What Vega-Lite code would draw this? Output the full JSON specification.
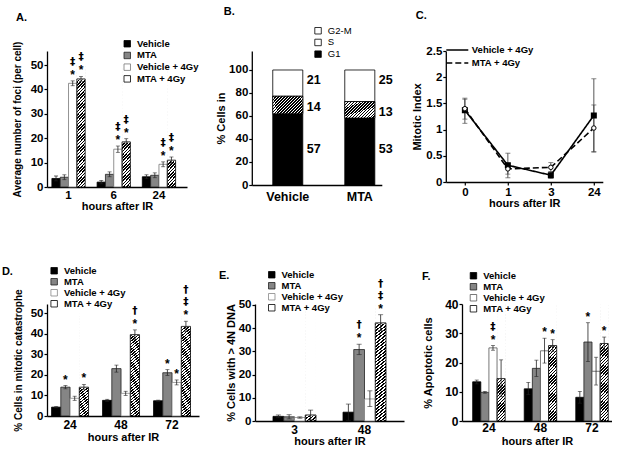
{
"$schema":"https://vega.github.io/schema/vega-lite/v6.json",
"padding":{"left":1,"top":6,"right":0,"bottom":0},
"datasets":{
"A":[
{"t":"1","g":"Vehicle","v":3.5,"lo":2.5,"hi":4.5},
{"t":"1","g":"MTA","v":4,"lo":3,"hi":5},
{"t":"1","g":"Vehicle + 4Gy","v":42.5,"lo":41.5,"hi":43.5,"s1":"*","s2":"‡"},
{"t":"1","g":"MTA + 4Gy","v":44.3,"lo":43.3,"hi":45.3,"s1":"*","s2":"‡"},
{"t":"6","g":"Vehicle","v":2,"lo":1.3,"hi":2.7},
{"t":"6","g":"MTA","v":5.2,"lo":4.2,"hi":6.2},
{"t":"6","g":"Vehicle + 4Gy","v":15.5,"lo":14.2,"hi":16.8,"s1":"*","s2":"‡"},
{"t":"6","g":"MTA + 4Gy","v":18.5,"lo":17.2,"hi":19.8,"s1":"*","s2":"‡"},
{"t":"24","g":"Vehicle","v":4.2,"lo":3.4,"hi":5},
{"t":"24","g":"MTA","v":4.8,"lo":3.8,"hi":5.8},
{"t":"24","g":"Vehicle + 4Gy","v":9.3,"lo":8.3,"hi":10.3,"s1":"*","s2":"‡"},
{"t":"24","g":"MTA + 4Gy","v":11,"lo":9.7,"hi":12.3,"s1":"*","s2":"‡"}
],
"B":[
{"c":"Vehicle","ph":"G1","pct":57,"o":1},{"c":"Vehicle","ph":"S","pct":14,"o":2},{"c":"Vehicle","ph":"G2-M","pct":21,"o":3},
{"c":"MTA","ph":"G1","pct":53,"o":1},{"c":"MTA","ph":"S","pct":13,"o":2},{"c":"MTA","ph":"G2-M","pct":25,"o":3}
],
"C":[
{"h":"0","hn":0,"s":"Vehicle + 4Gy","v":1.37,"lo":1.12,"hi":1.6},
{"h":"1","hn":1,"s":"Vehicle + 4Gy","v":0.32,"lo":0.08,"hi":0.55},
{"h":"3","hn":3,"s":"Vehicle + 4Gy","v":0.13,"lo":0.07,"hi":0.19},
{"h":"24","hn":24,"s":"Vehicle + 4Gy","v":1.27,"lo":0.57,"hi":1.97},
{"h":"0","hn":0,"s":"MTA + 4Gy","v":1.4,"lo":1.2,"hi":1.58},
{"h":"1","hn":1,"s":"MTA + 4Gy","v":0.25,"lo":0.15,"hi":0.36},
{"h":"3","hn":3,"s":"MTA + 4Gy","v":0.28,"lo":0.2,"hi":0.37},
{"h":"24","hn":24,"s":"MTA + 4Gy","v":1.03,"lo":0.58,"hi":1.47}
],
"D":[
{"t":"24","g":"Vehicle","v":4.3,"lo":4,"hi":4.6},
{"t":"24","g":"MTA","v":14,"lo":13.2,"hi":14.8,"s1":"*"},
{"t":"24","g":"Vehicle + 4Gy","v":8.6,"lo":7.6,"hi":9.6},
{"t":"24","g":"MTA + 4Gy","v":14,"lo":12.7,"hi":15.3,"s1":"*"},
{"t":"48","g":"Vehicle","v":7.6,"lo":7.1,"hi":8.1},
{"t":"48","g":"MTA","v":23,"lo":21.3,"hi":24.7},
{"t":"48","g":"Vehicle + 4Gy","v":11,"lo":10,"hi":12},
{"t":"48","g":"MTA + 4Gy","v":39.5,"lo":37.3,"hi":41.8,"s1":"*","s2":"†"},
{"t":"72","g":"Vehicle","v":7.4,"lo":7.1,"hi":7.7},
{"t":"72","g":"MTA","v":21,"lo":19.7,"hi":22.5,"s1":"*"},
{"t":"72","g":"Vehicle + 4Gy","v":16.3,"lo":15.1,"hi":17.5,"s1":"*"},
{"t":"72","g":"MTA + 4Gy","v":43.5,"lo":41,"hi":46,"s1":"*","s2":"‡","s3":"†"}
],
"E":[
{"t":"3","g":"Vehicle","v":2,"lo":1.4,"hi":2.6},
{"t":"3","g":"MTA","v":1.8,"lo":0.9,"hi":2.7},
{"t":"3","g":"Vehicle + 4Gy","v":1.5,"lo":1.2,"hi":1.8},
{"t":"3","g":"MTA + 4Gy","v":2.6,"lo":0.5,"hi":4.7},
{"t":"48","g":"Vehicle","v":3.8,"lo":0.3,"hi":7.3},
{"t":"48","g":"MTA","v":30.8,"lo":28.6,"hi":33.1,"s1":"*","s2":"†"},
{"t":"48","g":"Vehicle + 4Gy","v":9.5,"lo":6.2,"hi":13},
{"t":"48","g":"MTA + 4Gy","v":42.3,"lo":39,"hi":45.8,"s1":"*","s2":"‡","s3":"†"}
],
"F":[
{"t":"24","g":"Vehicle","v":13.4,"lo":12.7,"hi":14},
{"t":"24","g":"MTA","v":9.8,"lo":9.5,"hi":10.1},
{"t":"24","g":"Vehicle + 4Gy","v":25,"lo":24.2,"hi":25.8,"s1":"*","s2":"‡"},
{"t":"24","g":"MTA + 4Gy","v":14.5,"lo":8.3,"hi":20.9},
{"t":"48","g":"Vehicle","v":11,"lo":9,"hi":13.2},
{"t":"48","g":"MTA","v":18,"lo":15.2,"hi":20.8},
{"t":"48","g":"Vehicle + 4Gy","v":24,"lo":19.8,"hi":28.3,"s1":"*"},
{"t":"48","g":"MTA + 4Gy","v":25.8,"lo":23.8,"hi":27.8,"s1":"*"},
{"t":"72","g":"Vehicle","v":8.1,"lo":6.1,"hi":10.1},
{"t":"72","g":"MTA","v":27,"lo":20.3,"hi":33.6,"s1":"*"},
{"t":"72","g":"Vehicle + 4Gy","v":17,"lo":12.3,"hi":21.8},
{"t":"72","g":"MTA + 4Gy","v":26.5,"lo":24.3,"hi":28.7,"s1":"*"}
]
},
"spacing":54,
"resolve":{"scale":{"fill":"independent","stroke":"independent","strokeDash":"independent","xOffset":"independent"}},
"vconcat":[
{"spacing":14.8,
"resolve":{"scale":{"fill":"independent","stroke":"independent","strokeDash":"independent","xOffset":"independent"}},
"hconcat":[
{"width":140,"height":136,
"title":{"text":"A.","offset":16,"dx":-31,"frame":"group"},
"data":{"name":"A"},
"encoding":{
"x":{"field":"t","type":"nominal","sort":["1","6","24"],"scale":{"paddingInner":0.264,"paddingOuter":0.18,"align":0.3},"axis":{"title":"hours after IR","labelAngle":0,"ticks":false,"labelPadding":2,"titlePadding":0}},
"xOffset":{"field":"g","type":"nominal","sort":["Vehicle","MTA","Vehicle + 4Gy","MTA + 4Gy"],"scale":{"paddingInner":0,"paddingOuter":0}},
"y":{"field":"v","type":"quantitative","stack":null,"scale":{"domain":[0,55.74],"nice":false},"axis":{"title":"Average number of foci (per cell)","values":[0,10,20,30,40,50],"titleFontSize":10,"titlePadding":8}}
},
"layer":[
{"transform":[{"filter":"datum.g == 'MTA + 4Gy'"}],"mark":{"type":"bar","strokeWidth":0,"fill":{"gradient":"linear","x1":0,"y1":0,"x2":0.08,"y2":1.08,"stops":[{"offset":0,"color":"#000"},{"offset":0.0125,"color":"#000"},{"offset":0.0125,"color":"#fff"},{"offset":0.025,"color":"#fff"},{"offset":0.025,"color":"#000"},{"offset":0.0375,"color":"#000"},{"offset":0.0375,"color":"#fff"},{"offset":0.05,"color":"#fff"},{"offset":0.05,"color":"#000"},{"offset":0.0625,"color":"#000"},{"offset":0.0625,"color":"#fff"},{"offset":0.075,"color":"#fff"},{"offset":0.075,"color":"#000"},{"offset":0.0875,"color":"#000"},{"offset":0.0875,"color":"#fff"},{"offset":0.1,"color":"#fff"},{"offset":0.1,"color":"#000"},{"offset":0.1125,"color":"#000"},{"offset":0.1125,"color":"#fff"},{"offset":0.125,"color":"#fff"},{"offset":0.125,"color":"#000"},{"offset":0.1375,"color":"#000"},{"offset":0.1375,"color":"#fff"},{"offset":0.15,"color":"#fff"},{"offset":0.15,"color":"#000"},{"offset":0.1625,"color":"#000"},{"offset":0.1625,"color":"#fff"},{"offset":0.175,"color":"#fff"},{"offset":0.175,"color":"#000"},{"offset":0.1875,"color":"#000"},{"offset":0.1875,"color":"#fff"},{"offset":0.2,"color":"#fff"},{"offset":0.2,"color":"#000"},{"offset":0.2125,"color":"#000"},{"offset":0.2125,"color":"#fff"},{"offset":0.225,"color":"#fff"},{"offset":0.225,"color":"#000"},{"offset":0.2375,"color":"#000"},{"offset":0.2375,"color":"#fff"},{"offset":0.25,"color":"#fff"},{"offset":0.25,"color":"#000"},{"offset":0.2625,"color":"#000"},{"offset":0.2625,"color":"#fff"},{"offset":0.275,"color":"#fff"},{"offset":0.275,"color":"#000"},{"offset":0.2875,"color":"#000"},{"offset":0.2875,"color":"#fff"},{"offset":0.3,"color":"#fff"},{"offset":0.3,"color":"#000"},{"offset":0.3125,"color":"#000"},{"offset":0.3125,"color":"#fff"},{"offset":0.325,"color":"#fff"},{"offset":0.325,"color":"#000"},{"offset":0.3375,"color":"#000"},{"offset":0.3375,"color":"#fff"},{"offset":0.35,"color":"#fff"},{"offset":0.35,"color":"#000"},{"offset":0.3625,"color":"#000"},{"offset":0.3625,"color":"#fff"},{"offset":0.375,"color":"#fff"},{"offset":0.375,"color":"#000"},{"offset":0.3875,"color":"#000"},{"offset":0.3875,"color":"#fff"},{"offset":0.4,"color":"#fff"},{"offset":0.4,"color":"#000"},{"offset":0.4125,"color":"#000"},{"offset":0.4125,"color":"#fff"},{"offset":0.425,"color":"#fff"},{"offset":0.425,"color":"#000"},{"offset":0.4375,"color":"#000"},{"offset":0.4375,"color":"#fff"},{"offset":0.45,"color":"#fff"},{"offset":0.45,"color":"#000"},{"offset":0.4625,"color":"#000"},{"offset":0.4625,"color":"#fff"},{"offset":0.475,"color":"#fff"},{"offset":0.475,"color":"#000"},{"offset":0.4875,"color":"#000"},{"offset":0.4875,"color":"#fff"},{"offset":0.5,"color":"#fff"},{"offset":0.5,"color":"#000"},{"offset":0.5125,"color":"#000"},{"offset":0.5125,"color":"#fff"},{"offset":0.525,"color":"#fff"},{"offset":0.525,"color":"#000"},{"offset":0.5375,"color":"#000"},{"offset":0.5375,"color":"#fff"},{"offset":0.55,"color":"#fff"},{"offset":0.55,"color":"#000"},{"offset":0.5625,"color":"#000"},{"offset":0.5625,"color":"#fff"},{"offset":0.575,"color":"#fff"},{"offset":0.575,"color":"#000"},{"offset":0.5875,"color":"#000"},{"offset":0.5875,"color":"#fff"},{"offset":0.6,"color":"#fff"},{"offset":0.6,"color":"#000"},{"offset":0.6125,"color":"#000"},{"offset":0.6125,"color":"#fff"},{"offset":0.625,"color":"#fff"},{"offset":0.625,"color":"#000"},{"offset":0.6375,"color":"#000"},{"offset":0.6375,"color":"#fff"},{"offset":0.65,"color":"#fff"},{"offset":0.65,"color":"#000"},{"offset":0.6625,"color":"#000"},{"offset":0.6625,"color":"#fff"},{"offset":0.675,"color":"#fff"},{"offset":0.675,"color":"#000"},{"offset":0.6875,"color":"#000"},{"offset":0.6875,"color":"#fff"},{"offset":0.7,"color":"#fff"},{"offset":0.7,"color":"#000"},{"offset":0.7125,"color":"#000"},{"offset":0.7125,"color":"#fff"},{"offset":0.725,"color":"#fff"},{"offset":0.725,"color":"#000"},{"offset":0.7375,"color":"#000"},{"offset":0.7375,"color":"#fff"},{"offset":0.75,"color":"#fff"},{"offset":0.75,"color":"#000"},{"offset":0.7625,"color":"#000"},{"offset":0.7625,"color":"#fff"},{"offset":0.775,"color":"#fff"},{"offset":0.775,"color":"#000"},{"offset":0.7875,"color":"#000"},{"offset":0.7875,"color":"#fff"},{"offset":0.8,"color":"#fff"},{"offset":0.8,"color":"#000"},{"offset":0.8125,"color":"#000"},{"offset":0.8125,"color":"#fff"},{"offset":0.825,"color":"#fff"},{"offset":0.825,"color":"#000"},{"offset":0.8375,"color":"#000"},{"offset":0.8375,"color":"#fff"},{"offset":0.85,"color":"#fff"},{"offset":0.85,"color":"#000"},{"offset":0.8625,"color":"#000"},{"offset":0.8625,"color":"#fff"},{"offset":0.875,"color":"#fff"},{"offset":0.875,"color":"#000"},{"offset":0.8875,"color":"#000"},{"offset":0.8875,"color":"#fff"},{"offset":0.9,"color":"#fff"},{"offset":0.9,"color":"#000"},{"offset":0.9125,"color":"#000"},{"offset":0.9125,"color":"#fff"},{"offset":0.925,"color":"#fff"},{"offset":0.925,"color":"#000"},{"offset":0.9375,"color":"#000"},{"offset":0.9375,"color":"#fff"},{"offset":0.95,"color":"#fff"},{"offset":0.95,"color":"#000"},{"offset":0.9625,"color":"#000"},{"offset":0.9625,"color":"#fff"},{"offset":0.975,"color":"#fff"},{"offset":0.975,"color":"#000"},{"offset":0.9875,"color":"#000"},{"offset":0.9875,"color":"#fff"},{"offset":1,"color":"#fff"}]}},"encoding":{"y":{"datum":50},"y2":{"datum":0}}},
{"transform":[{"filter":"datum.g == 'MTA + 4Gy'"}],"mark":{"type":"bar","fill":"#fff","stroke":"#fff","strokeWidth":1.2},"encoding":{"y2":{"datum":50}}},
{"transform":[{"filter":"datum.g != 'MTA + 4Gy'"}],"mark":{"type":"bar","strokeWidth":0.8},"encoding":{
"fill":{"field":"g","type":"nominal","scale":{"domain":["Vehicle","MTA","Vehicle + 4Gy","MTA + 4Gy"],"range":["#000","#858585","#fff","#fff"]},"legend":{"orient":"none","legendX":75.5,"legendY":-12,"title":null,"rowPadding":0.7,"zindex":1,"encode":{"symbols":{"update":{"fill":[{"test":"datum.value === 'MTA + 4Gy'","value":{"gradient":"linear","x1":0,"y1":0,"x2":1,"y2":1,"stops":[{"offset":0,"color":"#fff"},{"offset":0.3,"color":"#fff"},{"offset":0.3,"color":"#000"},{"offset":0.42,"color":"#000"},{"offset":0.42,"color":"#fff"},{"offset":0.58,"color":"#fff"},{"offset":0.58,"color":"#000"},{"offset":0.7,"color":"#000"},{"offset":0.7,"color":"#fff"},{"offset":1,"color":"#fff"}]}},{"test":"datum.value === 'Vehicle'","value":"#000"},{"test":"datum.value === 'MTA'","value":"#858585"},{"value":"#fff"}],"stroke":{"value":"#000"},"strokeWidth":{"value":0.8}}}}}},
"stroke":{"field":"g","type":"nominal","scale":{"domain":["Vehicle","MTA","Vehicle + 4Gy","MTA + 4Gy"],"range":["#000","#222","#777","#000"]},"legend":null}}},
{"transform":[{"filter":"datum.g == 'MTA + 4Gy'"}],"mark":{"type":"bar","fill":"transparent","stroke":"#000","strokeWidth":0.8}},
{"mark":{"type":"rule","color":"#222","strokeWidth":0.8},"encoding":{"y":{"field":"lo","type":"quantitative"},"y2":{"field":"hi"}}},
{"mark":{"type":"tick","color":"#222","thickness":0.8,"size":4,"orient":"horizontal"},"encoding":{"y":{"field":"lo","type":"quantitative"}}},
{"mark":{"type":"tick","color":"#222","thickness":0.8,"size":4,"orient":"horizontal"},"encoding":{"y":{"field":"hi","type":"quantitative"}}},
{"transform":[{"filter":"isValid(datum.s1)"}],"mark":{"type":"text","baseline":"middle","dy":-6,"fontSize":12,"fontWeight":"bold"},"encoding":{"y":{"field":"hi","type":"quantitative"},"text":{"field":"s1"}}},
{"transform":[{"filter":"isValid(datum.s2)"}],"mark":{"type":"text","baseline":"middle","dy":-19,"fontSize":10.5,"fontWeight":"bold","font":"DejaVu Sans"},"encoding":{"y":{"field":"hi","type":"quantitative"},"text":{"field":"s2"}}}
]},
{"spacing":19,
"resolve":{"scale":{"fill":"independent","stroke":"independent","strokeDash":"independent","xOffset":"independent"}},
"hconcat":[
{"width":130,"height":134,
"title":{"text":"B.","offset":9,"dx":-28,"frame":"group"},
"data":{"name":"B"},
"transform":[{"stack":"pct","groupby":["c"],"sort":[{"field":"o","order":"ascending"}],"offset":"normalize","as":["y0","y1"]}],
"encoding":{"x":{"field":"c","type":"nominal","sort":["Vehicle","MTA"],"scale":{"paddingInner":0.583,"paddingOuter":0.194,"align":0.75},"axis":{"title":null,"labelAngle":0,"ticks":false,"labelPadding":5.75,"labelFontSize":12.5}},
"y":{"field":"y0","type":"quantitative","stack":null,"scale":{"domain":[0,1.1652],"nice":false},"axis":{"title":"% Cells in            ","values":[0,0.2,0.4,0.6,0.8,1],"labelExpr":"'' + round(datum.value*100)","titlePadding":2,"labelOverlap":false}}},
"layer":[
{"mark":{"type":"bar","stroke":"#000","strokeWidth":0.8},"encoding":{
"y2":{"field":"y1"},
"fill":{"field":"ph","type":"nominal","scale":{"domain":["G2-M","S","G1"],"range":["#fff","#fff","#000"]},"legend":{"orient":"none","legendX":61.5,"legendY":-25,"title":null,"labelFontWeight":"normal","rowPadding":0.7,"zindex":1,"encode":{"symbols":{"update":{"fill":[{"test":"datum.value === 'S'","value":{"gradient":"linear","x1":0,"y1":0,"x2":1,"y2":1,"stops":[{"offset":0,"color":"#fff"},{"offset":0.3,"color":"#fff"},{"offset":0.3,"color":"#000"},{"offset":0.42,"color":"#000"},{"offset":0.42,"color":"#fff"},{"offset":0.58,"color":"#fff"},{"offset":0.58,"color":"#000"},{"offset":0.7,"color":"#000"},{"offset":0.7,"color":"#fff"},{"offset":1,"color":"#fff"}]}},{"test":"datum.value === 'G1'","value":"#000"},{"value":"#fff"}],"stroke":{"value":"#000"},"strokeWidth":{"value":0.8}}}}}}}},
{"transform":[{"filter":"datum.ph == 'S'"}],"mark":{"type":"bar","stroke":"#000","strokeWidth":0.8,"fill":{"gradient":"linear","x1":0,"y1":0,"x2":1.185,"y2":0.675,"stops":[{"offset":0,"color":"#000"},{"offset":0.03125,"color":"#000"},{"offset":0.03125,"color":"#fff"},{"offset":0.0625,"color":"#fff"},{"offset":0.0625,"color":"#000"},{"offset":0.09375,"color":"#000"},{"offset":0.09375,"color":"#fff"},{"offset":0.125,"color":"#fff"},{"offset":0.125,"color":"#000"},{"offset":0.15625,"color":"#000"},{"offset":0.15625,"color":"#fff"},{"offset":0.1875,"color":"#fff"},{"offset":0.1875,"color":"#000"},{"offset":0.21875,"color":"#000"},{"offset":0.21875,"color":"#fff"},{"offset":0.25,"color":"#fff"},{"offset":0.25,"color":"#000"},{"offset":0.28125,"color":"#000"},{"offset":0.28125,"color":"#fff"},{"offset":0.3125,"color":"#fff"},{"offset":0.3125,"color":"#000"},{"offset":0.34375,"color":"#000"},{"offset":0.34375,"color":"#fff"},{"offset":0.375,"color":"#fff"},{"offset":0.375,"color":"#000"},{"offset":0.40625,"color":"#000"},{"offset":0.40625,"color":"#fff"},{"offset":0.4375,"color":"#fff"},{"offset":0.4375,"color":"#000"},{"offset":0.46875,"color":"#000"},{"offset":0.46875,"color":"#fff"},{"offset":0.5,"color":"#fff"},{"offset":0.5,"color":"#000"},{"offset":0.53125,"color":"#000"},{"offset":0.53125,"color":"#fff"},{"offset":0.5625,"color":"#fff"},{"offset":0.5625,"color":"#000"},{"offset":0.59375,"color":"#000"},{"offset":0.59375,"color":"#fff"},{"offset":0.625,"color":"#fff"},{"offset":0.625,"color":"#000"},{"offset":0.65625,"color":"#000"},{"offset":0.65625,"color":"#fff"},{"offset":0.6875,"color":"#fff"},{"offset":0.6875,"color":"#000"},{"offset":0.71875,"color":"#000"},{"offset":0.71875,"color":"#fff"},{"offset":0.75,"color":"#fff"},{"offset":0.75,"color":"#000"},{"offset":0.78125,"color":"#000"},{"offset":0.78125,"color":"#fff"},{"offset":0.8125,"color":"#fff"},{"offset":0.8125,"color":"#000"},{"offset":0.84375,"color":"#000"},{"offset":0.84375,"color":"#fff"},{"offset":0.875,"color":"#fff"},{"offset":0.875,"color":"#000"},{"offset":0.90625,"color":"#000"},{"offset":0.90625,"color":"#fff"},{"offset":0.9375,"color":"#fff"},{"offset":0.9375,"color":"#000"},{"offset":0.96875,"color":"#000"},{"offset":0.96875,"color":"#fff"},{"offset":1,"color":"#fff"}]}},"encoding":{"y2":{"field":"y1"}}},
{"transform":[{"filter":"datum.ph != 'G1'"}],"mark":{"type":"text","align":"left","baseline":"middle","dx":19,"dy":10.5,"fontSize":12.5,"fontWeight":"bold"},"encoding":{"y":{"field":"y1","type":"quantitative"},"text":{"field":"pct","type":"quantitative"}}},
{"transform":[{"filter":"datum.ph == 'G1'"}],"mark":{"type":"text","align":"left","baseline":"middle","dx":19,"dy":-36,"fontSize":12.5,"fontWeight":"bold"},"encoding":{"y":{"field":"y0","type":"quantitative"},"text":{"field":"pct","type":"quantitative"}}}
]},
{"width":157,"height":131,
"title":{"text":"C.","offset":22.5,"dx":-30,"frame":"group"},
"data":{"name":"C"},
"encoding":{"x":{"field":"h","type":"ordinal","sort":["0","1","3","24"],"scale":{"type":"point","padding":0.326,"align":0.68},"axis":{"title":"hours after IR","labelAngle":0,"labelPadding":1,"titlePadding":0}},
"y":{"field":"v","type":"quantitative","scale":{"domain":[0,2.5],"nice":false},"axis":{"title":"Mitotic Index","values":[0,0.5,1,1.5,2,2.5],"format":"~g","titlePadding":3,"labelOverlap":false}}},
"layer":[
{"mark":{"type":"rule","color":"#444","strokeWidth":0.9},"encoding":{"y":{"field":"lo","type":"quantitative"},"y2":{"field":"hi"}}},
{"mark":{"type":"tick","color":"#444","thickness":0.9,"size":5,"orient":"horizontal"},"encoding":{"y":{"field":"lo","type":"quantitative"}}},
{"mark":{"type":"tick","color":"#444","thickness":0.9,"size":5,"orient":"horizontal"},"encoding":{"y":{"field":"hi","type":"quantitative"}}},
{"mark":{"type":"line","color":"#000","strokeWidth":1.6},"encoding":{"order":{"field":"hn","type":"quantitative"},"strokeDash":{"field":"s","type":"nominal","scale":{"domain":["Vehicle + 4Gy","MTA + 4Gy"],"range":[[1,0],[6,3]]},"legend":{"orient":"none","legendX":5,"legendY":-7.5,"title":null,"symbolType":"M-2,0H2","symbolSize":121,"symbolStrokeWidth":1.6,"symbolStrokeColor":"#000","labelOffset":8,"rowPadding":2,"zindex":1}}}},
{"transform":[{"filter":"datum.s == 'Vehicle + 4Gy'"}],"mark":{"type":"point","shape":"square","filled":true,"fill":"#000","stroke":"#000","size":16,"opacity":1}},
{"transform":[{"filter":"datum.s == 'MTA + 4Gy'"}],"mark":{"type":"point","shape":"circle","filled":true,"fill":"#fff","stroke":"#000","strokeWidth":1,"size":20,"opacity":1}}
]}
]}
]},
{"spacing":20,
"resolve":{"scale":{"fill":"independent","stroke":"independent","strokeDash":"independent","xOffset":"independent"}},
"hconcat":[
{"width":152,"height":112,
"data":{"name":"D"},
"encoding":{
"x":{"field":"t","type":"nominal","sort":["24","48","72"],"scale":{"paddingInner":0.275,"paddingOuter":0.128,"align":0.35},"axis":{"title":"hours after IR","labelAngle":0,"ticks":false,"labelPadding":3,"titlePadding":1.5,"labelFontSize":12}},
"xOffset":{"field":"g","type":"nominal","sort":["Vehicle","MTA","Vehicle + 4Gy","MTA + 4Gy"],"scale":{"paddingInner":0,"paddingOuter":0}},
"y":{"field":"v","type":"quantitative","stack":null,"scale":{"domain":[0,54.37],"nice":false},"axis":{"title":"% Cells in mitotic catastrophe","values":[0,10,20,30,40,50],"titleFontSize":10,"titlePadding":6.7}}
},
"layer":[
{"transform":[{"filter":"datum.g == 'MTA + 4Gy'"}],"mark":{"type":"bar","strokeWidth":0,"fill":{"gradient":"linear","x1":0,"y1":0,"x2":0.08,"y2":1.08,"stops":[{"offset":0,"color":"#000"},{"offset":0.0125,"color":"#000"},{"offset":0.0125,"color":"#fff"},{"offset":0.025,"color":"#fff"},{"offset":0.025,"color":"#000"},{"offset":0.0375,"color":"#000"},{"offset":0.0375,"color":"#fff"},{"offset":0.05,"color":"#fff"},{"offset":0.05,"color":"#000"},{"offset":0.0625,"color":"#000"},{"offset":0.0625,"color":"#fff"},{"offset":0.075,"color":"#fff"},{"offset":0.075,"color":"#000"},{"offset":0.0875,"color":"#000"},{"offset":0.0875,"color":"#fff"},{"offset":0.1,"color":"#fff"},{"offset":0.1,"color":"#000"},{"offset":0.1125,"color":"#000"},{"offset":0.1125,"color":"#fff"},{"offset":0.125,"color":"#fff"},{"offset":0.125,"color":"#000"},{"offset":0.1375,"color":"#000"},{"offset":0.1375,"color":"#fff"},{"offset":0.15,"color":"#fff"},{"offset":0.15,"color":"#000"},{"offset":0.1625,"color":"#000"},{"offset":0.1625,"color":"#fff"},{"offset":0.175,"color":"#fff"},{"offset":0.175,"color":"#000"},{"offset":0.1875,"color":"#000"},{"offset":0.1875,"color":"#fff"},{"offset":0.2,"color":"#fff"},{"offset":0.2,"color":"#000"},{"offset":0.2125,"color":"#000"},{"offset":0.2125,"color":"#fff"},{"offset":0.225,"color":"#fff"},{"offset":0.225,"color":"#000"},{"offset":0.2375,"color":"#000"},{"offset":0.2375,"color":"#fff"},{"offset":0.25,"color":"#fff"},{"offset":0.25,"color":"#000"},{"offset":0.2625,"color":"#000"},{"offset":0.2625,"color":"#fff"},{"offset":0.275,"color":"#fff"},{"offset":0.275,"color":"#000"},{"offset":0.2875,"color":"#000"},{"offset":0.2875,"color":"#fff"},{"offset":0.3,"color":"#fff"},{"offset":0.3,"color":"#000"},{"offset":0.3125,"color":"#000"},{"offset":0.3125,"color":"#fff"},{"offset":0.325,"color":"#fff"},{"offset":0.325,"color":"#000"},{"offset":0.3375,"color":"#000"},{"offset":0.3375,"color":"#fff"},{"offset":0.35,"color":"#fff"},{"offset":0.35,"color":"#000"},{"offset":0.3625,"color":"#000"},{"offset":0.3625,"color":"#fff"},{"offset":0.375,"color":"#fff"},{"offset":0.375,"color":"#000"},{"offset":0.3875,"color":"#000"},{"offset":0.3875,"color":"#fff"},{"offset":0.4,"color":"#fff"},{"offset":0.4,"color":"#000"},{"offset":0.4125,"color":"#000"},{"offset":0.4125,"color":"#fff"},{"offset":0.425,"color":"#fff"},{"offset":0.425,"color":"#000"},{"offset":0.4375,"color":"#000"},{"offset":0.4375,"color":"#fff"},{"offset":0.45,"color":"#fff"},{"offset":0.45,"color":"#000"},{"offset":0.4625,"color":"#000"},{"offset":0.4625,"color":"#fff"},{"offset":0.475,"color":"#fff"},{"offset":0.475,"color":"#000"},{"offset":0.4875,"color":"#000"},{"offset":0.4875,"color":"#fff"},{"offset":0.5,"color":"#fff"},{"offset":0.5,"color":"#000"},{"offset":0.5125,"color":"#000"},{"offset":0.5125,"color":"#fff"},{"offset":0.525,"color":"#fff"},{"offset":0.525,"color":"#000"},{"offset":0.5375,"color":"#000"},{"offset":0.5375,"color":"#fff"},{"offset":0.55,"color":"#fff"},{"offset":0.55,"color":"#000"},{"offset":0.5625,"color":"#000"},{"offset":0.5625,"color":"#fff"},{"offset":0.575,"color":"#fff"},{"offset":0.575,"color":"#000"},{"offset":0.5875,"color":"#000"},{"offset":0.5875,"color":"#fff"},{"offset":0.6,"color":"#fff"},{"offset":0.6,"color":"#000"},{"offset":0.6125,"color":"#000"},{"offset":0.6125,"color":"#fff"},{"offset":0.625,"color":"#fff"},{"offset":0.625,"color":"#000"},{"offset":0.6375,"color":"#000"},{"offset":0.6375,"color":"#fff"},{"offset":0.65,"color":"#fff"},{"offset":0.65,"color":"#000"},{"offset":0.6625,"color":"#000"},{"offset":0.6625,"color":"#fff"},{"offset":0.675,"color":"#fff"},{"offset":0.675,"color":"#000"},{"offset":0.6875,"color":"#000"},{"offset":0.6875,"color":"#fff"},{"offset":0.7,"color":"#fff"},{"offset":0.7,"color":"#000"},{"offset":0.7125,"color":"#000"},{"offset":0.7125,"color":"#fff"},{"offset":0.725,"color":"#fff"},{"offset":0.725,"color":"#000"},{"offset":0.7375,"color":"#000"},{"offset":0.7375,"color":"#fff"},{"offset":0.75,"color":"#fff"},{"offset":0.75,"color":"#000"},{"offset":0.7625,"color":"#000"},{"offset":0.7625,"color":"#fff"},{"offset":0.775,"color":"#fff"},{"offset":0.775,"color":"#000"},{"offset":0.7875,"color":"#000"},{"offset":0.7875,"color":"#fff"},{"offset":0.8,"color":"#fff"},{"offset":0.8,"color":"#000"},{"offset":0.8125,"color":"#000"},{"offset":0.8125,"color":"#fff"},{"offset":0.825,"color":"#fff"},{"offset":0.825,"color":"#000"},{"offset":0.8375,"color":"#000"},{"offset":0.8375,"color":"#fff"},{"offset":0.85,"color":"#fff"},{"offset":0.85,"color":"#000"},{"offset":0.8625,"color":"#000"},{"offset":0.8625,"color":"#fff"},{"offset":0.875,"color":"#fff"},{"offset":0.875,"color":"#000"},{"offset":0.8875,"color":"#000"},{"offset":0.8875,"color":"#fff"},{"offset":0.9,"color":"#fff"},{"offset":0.9,"color":"#000"},{"offset":0.9125,"color":"#000"},{"offset":0.9125,"color":"#fff"},{"offset":0.925,"color":"#fff"},{"offset":0.925,"color":"#000"},{"offset":0.9375,"color":"#000"},{"offset":0.9375,"color":"#fff"},{"offset":0.95,"color":"#fff"},{"offset":0.95,"color":"#000"},{"offset":0.9625,"color":"#000"},{"offset":0.9625,"color":"#fff"},{"offset":0.975,"color":"#fff"},{"offset":0.975,"color":"#000"},{"offset":0.9875,"color":"#000"},{"offset":0.9875,"color":"#fff"},{"offset":1,"color":"#fff"}]}},"encoding":{"y":{"datum":50},"y2":{"datum":0}}},
{"transform":[{"filter":"datum.g == 'MTA + 4Gy'"}],"mark":{"type":"bar","fill":"#fff","stroke":"#fff","strokeWidth":1.2},"encoding":{"y2":{"datum":50}}},
{"transform":[{"filter":"datum.g != 'MTA + 4Gy'"}],"mark":{"type":"bar","strokeWidth":0.8},"encoding":{
"fill":{"field":"g","type":"nominal","scale":{"domain":["Vehicle","MTA","Vehicle + 4Gy","MTA + 4Gy"],"range":["#000","#858585","#fff","#fff"]},"legend":{"orient":"none","legendX":-45.1,"legendY":-38,"title":"  D.","titleOrient":"left","titleAnchor":"start","titleBaseline":"top","titlePadding":36.5,"rowPadding":0,"zindex":1,"encode":{"symbols":{"update":{"fill":[{"test":"datum.value === 'MTA + 4Gy'","value":{"gradient":"linear","x1":0,"y1":0,"x2":1,"y2":1,"stops":[{"offset":0,"color":"#fff"},{"offset":0.3,"color":"#fff"},{"offset":0.3,"color":"#000"},{"offset":0.42,"color":"#000"},{"offset":0.42,"color":"#fff"},{"offset":0.58,"color":"#fff"},{"offset":0.58,"color":"#000"},{"offset":0.7,"color":"#000"},{"offset":0.7,"color":"#fff"},{"offset":1,"color":"#fff"}]}},{"test":"datum.value === 'Vehicle'","value":"#000"},{"test":"datum.value === 'MTA'","value":"#858585"},{"value":"#fff"}],"stroke":{"value":"#000"},"strokeWidth":{"value":0.8}}}}}},
"stroke":{"field":"g","type":"nominal","scale":{"domain":["Vehicle","MTA","Vehicle + 4Gy","MTA + 4Gy"],"range":["#000","#222","#888","#000"]},"legend":null}}},
{"transform":[{"filter":"datum.g == 'MTA + 4Gy'"}],"mark":{"type":"bar","fill":"transparent","stroke":"#000","strokeWidth":0.8}},
{"mark":{"type":"rule","color":"#222","strokeWidth":0.8},"encoding":{"y":{"field":"lo","type":"quantitative"},"y2":{"field":"hi"}}},
{"mark":{"type":"tick","color":"#222","thickness":0.8,"size":4,"orient":"horizontal"},"encoding":{"y":{"field":"lo","type":"quantitative"}}},
{"mark":{"type":"tick","color":"#222","thickness":0.8,"size":4,"orient":"horizontal"},"encoding":{"y":{"field":"hi","type":"quantitative"}}},
{"transform":[{"filter":"isValid(datum.s1)"}],"mark":{"type":"text","baseline":"middle","dy":-6,"fontSize":12,"fontWeight":"bold"},"encoding":{"y":{"field":"hi","type":"quantitative"},"text":{"field":"s1"}}},
{"transform":[{"filter":"isValid(datum.s2)"}],"mark":{"type":"text","baseline":"middle","dy":-19,"fontSize":10.5,"fontWeight":"bold","font":"DejaVu Sans"},"encoding":{"y":{"field":"hi","type":"quantitative"},"text":{"field":"s2"}}},
{"transform":[{"filter":"isValid(datum.s3)"}],"mark":{"type":"text","baseline":"middle","dy":-31,"fontSize":10.5,"fontWeight":"bold","font":"DejaVu Sans"},"encoding":{"y":{"field":"hi","type":"quantitative"},"text":{"field":"s3"}}}
]},
{"spacing":18,
"resolve":{"scale":{"fill":"independent","stroke":"independent","strokeDash":"independent","xOffset":"independent"}},
"hconcat":[
{"width":149,"height":117,
"data":{"name":"E"},
"encoding":{
"x":{"field":"t","type":"nominal","sort":["3","48"],"scale":{"paddingInner":0.386,"paddingOuter":0.257,"align":0.5},"axis":{"title":"hours after IR","labelAngle":0,"ticks":false,"labelPadding":3,"titlePadding":0,"labelFontSize":12}},
"xOffset":{"field":"g","type":"nominal","sort":["Vehicle","MTA","Vehicle + 4Gy","MTA + 4Gy"],"scale":{"paddingInner":0,"paddingOuter":0}},
"y":{"field":"v","type":"quantitative","stack":null,"scale":{"domain":[0,50.43],"nice":false},"axis":{"title":"% Cells with > 4N DNA","values":[0,10,20,30,40,50],"titlePadding":1.7}}
},
"layer":[
{"transform":[{"filter":"datum.g == 'MTA + 4Gy'"}],"mark":{"type":"bar","strokeWidth":0,"fill":{"gradient":"linear","x1":0,"y1":0,"x2":0.08,"y2":1.08,"stops":[{"offset":0,"color":"#000"},{"offset":0.0125,"color":"#000"},{"offset":0.0125,"color":"#fff"},{"offset":0.025,"color":"#fff"},{"offset":0.025,"color":"#000"},{"offset":0.0375,"color":"#000"},{"offset":0.0375,"color":"#fff"},{"offset":0.05,"color":"#fff"},{"offset":0.05,"color":"#000"},{"offset":0.0625,"color":"#000"},{"offset":0.0625,"color":"#fff"},{"offset":0.075,"color":"#fff"},{"offset":0.075,"color":"#000"},{"offset":0.0875,"color":"#000"},{"offset":0.0875,"color":"#fff"},{"offset":0.1,"color":"#fff"},{"offset":0.1,"color":"#000"},{"offset":0.1125,"color":"#000"},{"offset":0.1125,"color":"#fff"},{"offset":0.125,"color":"#fff"},{"offset":0.125,"color":"#000"},{"offset":0.1375,"color":"#000"},{"offset":0.1375,"color":"#fff"},{"offset":0.15,"color":"#fff"},{"offset":0.15,"color":"#000"},{"offset":0.1625,"color":"#000"},{"offset":0.1625,"color":"#fff"},{"offset":0.175,"color":"#fff"},{"offset":0.175,"color":"#000"},{"offset":0.1875,"color":"#000"},{"offset":0.1875,"color":"#fff"},{"offset":0.2,"color":"#fff"},{"offset":0.2,"color":"#000"},{"offset":0.2125,"color":"#000"},{"offset":0.2125,"color":"#fff"},{"offset":0.225,"color":"#fff"},{"offset":0.225,"color":"#000"},{"offset":0.2375,"color":"#000"},{"offset":0.2375,"color":"#fff"},{"offset":0.25,"color":"#fff"},{"offset":0.25,"color":"#000"},{"offset":0.2625,"color":"#000"},{"offset":0.2625,"color":"#fff"},{"offset":0.275,"color":"#fff"},{"offset":0.275,"color":"#000"},{"offset":0.2875,"color":"#000"},{"offset":0.2875,"color":"#fff"},{"offset":0.3,"color":"#fff"},{"offset":0.3,"color":"#000"},{"offset":0.3125,"color":"#000"},{"offset":0.3125,"color":"#fff"},{"offset":0.325,"color":"#fff"},{"offset":0.325,"color":"#000"},{"offset":0.3375,"color":"#000"},{"offset":0.3375,"color":"#fff"},{"offset":0.35,"color":"#fff"},{"offset":0.35,"color":"#000"},{"offset":0.3625,"color":"#000"},{"offset":0.3625,"color":"#fff"},{"offset":0.375,"color":"#fff"},{"offset":0.375,"color":"#000"},{"offset":0.3875,"color":"#000"},{"offset":0.3875,"color":"#fff"},{"offset":0.4,"color":"#fff"},{"offset":0.4,"color":"#000"},{"offset":0.4125,"color":"#000"},{"offset":0.4125,"color":"#fff"},{"offset":0.425,"color":"#fff"},{"offset":0.425,"color":"#000"},{"offset":0.4375,"color":"#000"},{"offset":0.4375,"color":"#fff"},{"offset":0.45,"color":"#fff"},{"offset":0.45,"color":"#000"},{"offset":0.4625,"color":"#000"},{"offset":0.4625,"color":"#fff"},{"offset":0.475,"color":"#fff"},{"offset":0.475,"color":"#000"},{"offset":0.4875,"color":"#000"},{"offset":0.4875,"color":"#fff"},{"offset":0.5,"color":"#fff"},{"offset":0.5,"color":"#000"},{"offset":0.5125,"color":"#000"},{"offset":0.5125,"color":"#fff"},{"offset":0.525,"color":"#fff"},{"offset":0.525,"color":"#000"},{"offset":0.5375,"color":"#000"},{"offset":0.5375,"color":"#fff"},{"offset":0.55,"color":"#fff"},{"offset":0.55,"color":"#000"},{"offset":0.5625,"color":"#000"},{"offset":0.5625,"color":"#fff"},{"offset":0.575,"color":"#fff"},{"offset":0.575,"color":"#000"},{"offset":0.5875,"color":"#000"},{"offset":0.5875,"color":"#fff"},{"offset":0.6,"color":"#fff"},{"offset":0.6,"color":"#000"},{"offset":0.6125,"color":"#000"},{"offset":0.6125,"color":"#fff"},{"offset":0.625,"color":"#fff"},{"offset":0.625,"color":"#000"},{"offset":0.6375,"color":"#000"},{"offset":0.6375,"color":"#fff"},{"offset":0.65,"color":"#fff"},{"offset":0.65,"color":"#000"},{"offset":0.6625,"color":"#000"},{"offset":0.6625,"color":"#fff"},{"offset":0.675,"color":"#fff"},{"offset":0.675,"color":"#000"},{"offset":0.6875,"color":"#000"},{"offset":0.6875,"color":"#fff"},{"offset":0.7,"color":"#fff"},{"offset":0.7,"color":"#000"},{"offset":0.7125,"color":"#000"},{"offset":0.7125,"color":"#fff"},{"offset":0.725,"color":"#fff"},{"offset":0.725,"color":"#000"},{"offset":0.7375,"color":"#000"},{"offset":0.7375,"color":"#fff"},{"offset":0.75,"color":"#fff"},{"offset":0.75,"color":"#000"},{"offset":0.7625,"color":"#000"},{"offset":0.7625,"color":"#fff"},{"offset":0.775,"color":"#fff"},{"offset":0.775,"color":"#000"},{"offset":0.7875,"color":"#000"},{"offset":0.7875,"color":"#fff"},{"offset":0.8,"color":"#fff"},{"offset":0.8,"color":"#000"},{"offset":0.8125,"color":"#000"},{"offset":0.8125,"color":"#fff"},{"offset":0.825,"color":"#fff"},{"offset":0.825,"color":"#000"},{"offset":0.8375,"color":"#000"},{"offset":0.8375,"color":"#fff"},{"offset":0.85,"color":"#fff"},{"offset":0.85,"color":"#000"},{"offset":0.8625,"color":"#000"},{"offset":0.8625,"color":"#fff"},{"offset":0.875,"color":"#fff"},{"offset":0.875,"color":"#000"},{"offset":0.8875,"color":"#000"},{"offset":0.8875,"color":"#fff"},{"offset":0.9,"color":"#fff"},{"offset":0.9,"color":"#000"},{"offset":0.9125,"color":"#000"},{"offset":0.9125,"color":"#fff"},{"offset":0.925,"color":"#fff"},{"offset":0.925,"color":"#000"},{"offset":0.9375,"color":"#000"},{"offset":0.9375,"color":"#fff"},{"offset":0.95,"color":"#fff"},{"offset":0.95,"color":"#000"},{"offset":0.9625,"color":"#000"},{"offset":0.9625,"color":"#fff"},{"offset":0.975,"color":"#fff"},{"offset":0.975,"color":"#000"},{"offset":0.9875,"color":"#000"},{"offset":0.9875,"color":"#fff"},{"offset":1,"color":"#fff"}]}},"encoding":{"y":{"datum":50},"y2":{"datum":0}}},
{"transform":[{"filter":"datum.g == 'MTA + 4Gy'"}],"mark":{"type":"bar","fill":"#fff","stroke":"#fff","strokeWidth":1.2},"encoding":{"y2":{"datum":50}}},
{"transform":[{"filter":"datum.g != 'MTA + 4Gy'"}],"mark":{"type":"bar","strokeWidth":0.8},"encoding":{
"fill":{"field":"g","type":"nominal","scale":{"domain":["Vehicle","MTA","Vehicle + 4Gy","MTA + 4Gy"],"range":["#000","#858585","#fff","#fff"]},"legend":{"orient":"none","legendX":-36,"legendY":-34,"title":"E.","titleOrient":"left","titleAnchor":"start","titleBaseline":"top","titlePadding":37,"rowPadding":0,"zindex":1,"encode":{"symbols":{"update":{"fill":[{"test":"datum.value === 'MTA + 4Gy'","value":{"gradient":"linear","x1":0,"y1":0,"x2":1,"y2":1,"stops":[{"offset":0,"color":"#fff"},{"offset":0.3,"color":"#fff"},{"offset":0.3,"color":"#000"},{"offset":0.42,"color":"#000"},{"offset":0.42,"color":"#fff"},{"offset":0.58,"color":"#fff"},{"offset":0.58,"color":"#000"},{"offset":0.7,"color":"#000"},{"offset":0.7,"color":"#fff"},{"offset":1,"color":"#fff"}]}},{"test":"datum.value === 'Vehicle'","value":"#000"},{"test":"datum.value === 'MTA'","value":"#858585"},{"value":"#fff"}],"stroke":{"value":"#000"},"strokeWidth":{"value":0.8}}}}}},
"stroke":{"field":"g","type":"nominal","scale":{"domain":["Vehicle","MTA","Vehicle + 4Gy","MTA + 4Gy"],"range":["#000","#222","#888","#000"]},"legend":null}}},
{"transform":[{"filter":"datum.g == 'MTA + 4Gy'"}],"mark":{"type":"bar","fill":"transparent","stroke":"#000","strokeWidth":0.8}},
{"mark":{"type":"rule","color":"#222","strokeWidth":0.8},"encoding":{"y":{"field":"lo","type":"quantitative"},"y2":{"field":"hi"}}},
{"mark":{"type":"tick","color":"#222","thickness":0.8,"size":5,"orient":"horizontal"},"encoding":{"y":{"field":"lo","type":"quantitative"}}},
{"mark":{"type":"tick","color":"#222","thickness":0.8,"size":5,"orient":"horizontal"},"encoding":{"y":{"field":"hi","type":"quantitative"}}},
{"transform":[{"filter":"isValid(datum.s1)"}],"mark":{"type":"text","baseline":"middle","dy":-6,"fontSize":12,"fontWeight":"bold"},"encoding":{"y":{"field":"hi","type":"quantitative"},"text":{"field":"s1"}}},
{"transform":[{"filter":"isValid(datum.s2)"}],"mark":{"type":"text","baseline":"middle","dy":-19,"fontSize":10.5,"fontWeight":"bold","font":"DejaVu Sans"},"encoding":{"y":{"field":"hi","type":"quantitative"},"text":{"field":"s2"}}},
{"transform":[{"filter":"isValid(datum.s3)"}],"mark":{"type":"text","baseline":"middle","dy":-31,"fontSize":10.5,"fontWeight":"bold","font":"DejaVu Sans"},"encoding":{"y":{"field":"hi","type":"quantitative"},"text":{"field":"s3"}}}
]},
{"width":150,"height":117,
"data":{"name":"F"},
"encoding":{
"x":{"field":"t","type":"nominal","sort":["24","48","72"],"scale":{"paddingInner":0.37,"paddingOuter":0.14,"align":0.74},"axis":{"title":"hours after IR","labelAngle":0,"ticks":false,"labelPadding":1,"titlePadding":2,"labelFontSize":12}},
"xOffset":{"field":"g","type":"nominal","sort":["Vehicle","MTA","Vehicle + 4Gy","MTA + 4Gy"],"scale":{"paddingInner":0,"paddingOuter":0}},
"y":{"field":"v","type":"quantitative","stack":null,"scale":{"domain":[0,40],"nice":false},"axis":{"title":"% Apoptotic cells","values":[0,10,20,30,40],"titlePadding":10.7,"labelFontSize":12}}
},
"layer":[
{"transform":[{"filter":"datum.g == 'MTA + 4Gy'"}],"mark":{"type":"bar","strokeWidth":0,"fill":{"gradient":"linear","x1":0,"y1":0,"x2":0.08,"y2":1.08,"stops":[{"offset":0,"color":"#000"},{"offset":0.0125,"color":"#000"},{"offset":0.0125,"color":"#fff"},{"offset":0.025,"color":"#fff"},{"offset":0.025,"color":"#000"},{"offset":0.0375,"color":"#000"},{"offset":0.0375,"color":"#fff"},{"offset":0.05,"color":"#fff"},{"offset":0.05,"color":"#000"},{"offset":0.0625,"color":"#000"},{"offset":0.0625,"color":"#fff"},{"offset":0.075,"color":"#fff"},{"offset":0.075,"color":"#000"},{"offset":0.0875,"color":"#000"},{"offset":0.0875,"color":"#fff"},{"offset":0.1,"color":"#fff"},{"offset":0.1,"color":"#000"},{"offset":0.1125,"color":"#000"},{"offset":0.1125,"color":"#fff"},{"offset":0.125,"color":"#fff"},{"offset":0.125,"color":"#000"},{"offset":0.1375,"color":"#000"},{"offset":0.1375,"color":"#fff"},{"offset":0.15,"color":"#fff"},{"offset":0.15,"color":"#000"},{"offset":0.1625,"color":"#000"},{"offset":0.1625,"color":"#fff"},{"offset":0.175,"color":"#fff"},{"offset":0.175,"color":"#000"},{"offset":0.1875,"color":"#000"},{"offset":0.1875,"color":"#fff"},{"offset":0.2,"color":"#fff"},{"offset":0.2,"color":"#000"},{"offset":0.2125,"color":"#000"},{"offset":0.2125,"color":"#fff"},{"offset":0.225,"color":"#fff"},{"offset":0.225,"color":"#000"},{"offset":0.2375,"color":"#000"},{"offset":0.2375,"color":"#fff"},{"offset":0.25,"color":"#fff"},{"offset":0.25,"color":"#000"},{"offset":0.2625,"color":"#000"},{"offset":0.2625,"color":"#fff"},{"offset":0.275,"color":"#fff"},{"offset":0.275,"color":"#000"},{"offset":0.2875,"color":"#000"},{"offset":0.2875,"color":"#fff"},{"offset":0.3,"color":"#fff"},{"offset":0.3,"color":"#000"},{"offset":0.3125,"color":"#000"},{"offset":0.3125,"color":"#fff"},{"offset":0.325,"color":"#fff"},{"offset":0.325,"color":"#000"},{"offset":0.3375,"color":"#000"},{"offset":0.3375,"color":"#fff"},{"offset":0.35,"color":"#fff"},{"offset":0.35,"color":"#000"},{"offset":0.3625,"color":"#000"},{"offset":0.3625,"color":"#fff"},{"offset":0.375,"color":"#fff"},{"offset":0.375,"color":"#000"},{"offset":0.3875,"color":"#000"},{"offset":0.3875,"color":"#fff"},{"offset":0.4,"color":"#fff"},{"offset":0.4,"color":"#000"},{"offset":0.4125,"color":"#000"},{"offset":0.4125,"color":"#fff"},{"offset":0.425,"color":"#fff"},{"offset":0.425,"color":"#000"},{"offset":0.4375,"color":"#000"},{"offset":0.4375,"color":"#fff"},{"offset":0.45,"color":"#fff"},{"offset":0.45,"color":"#000"},{"offset":0.4625,"color":"#000"},{"offset":0.4625,"color":"#fff"},{"offset":0.475,"color":"#fff"},{"offset":0.475,"color":"#000"},{"offset":0.4875,"color":"#000"},{"offset":0.4875,"color":"#fff"},{"offset":0.5,"color":"#fff"},{"offset":0.5,"color":"#000"},{"offset":0.5125,"color":"#000"},{"offset":0.5125,"color":"#fff"},{"offset":0.525,"color":"#fff"},{"offset":0.525,"color":"#000"},{"offset":0.5375,"color":"#000"},{"offset":0.5375,"color":"#fff"},{"offset":0.55,"color":"#fff"},{"offset":0.55,"color":"#000"},{"offset":0.5625,"color":"#000"},{"offset":0.5625,"color":"#fff"},{"offset":0.575,"color":"#fff"},{"offset":0.575,"color":"#000"},{"offset":0.5875,"color":"#000"},{"offset":0.5875,"color":"#fff"},{"offset":0.6,"color":"#fff"},{"offset":0.6,"color":"#000"},{"offset":0.6125,"color":"#000"},{"offset":0.6125,"color":"#fff"},{"offset":0.625,"color":"#fff"},{"offset":0.625,"color":"#000"},{"offset":0.6375,"color":"#000"},{"offset":0.6375,"color":"#fff"},{"offset":0.65,"color":"#fff"},{"offset":0.65,"color":"#000"},{"offset":0.6625,"color":"#000"},{"offset":0.6625,"color":"#fff"},{"offset":0.675,"color":"#fff"},{"offset":0.675,"color":"#000"},{"offset":0.6875,"color":"#000"},{"offset":0.6875,"color":"#fff"},{"offset":0.7,"color":"#fff"},{"offset":0.7,"color":"#000"},{"offset":0.7125,"color":"#000"},{"offset":0.7125,"color":"#fff"},{"offset":0.725,"color":"#fff"},{"offset":0.725,"color":"#000"},{"offset":0.7375,"color":"#000"},{"offset":0.7375,"color":"#fff"},{"offset":0.75,"color":"#fff"},{"offset":0.75,"color":"#000"},{"offset":0.7625,"color":"#000"},{"offset":0.7625,"color":"#fff"},{"offset":0.775,"color":"#fff"},{"offset":0.775,"color":"#000"},{"offset":0.7875,"color":"#000"},{"offset":0.7875,"color":"#fff"},{"offset":0.8,"color":"#fff"},{"offset":0.8,"color":"#000"},{"offset":0.8125,"color":"#000"},{"offset":0.8125,"color":"#fff"},{"offset":0.825,"color":"#fff"},{"offset":0.825,"color":"#000"},{"offset":0.8375,"color":"#000"},{"offset":0.8375,"color":"#fff"},{"offset":0.85,"color":"#fff"},{"offset":0.85,"color":"#000"},{"offset":0.8625,"color":"#000"},{"offset":0.8625,"color":"#fff"},{"offset":0.875,"color":"#fff"},{"offset":0.875,"color":"#000"},{"offset":0.8875,"color":"#000"},{"offset":0.8875,"color":"#fff"},{"offset":0.9,"color":"#fff"},{"offset":0.9,"color":"#000"},{"offset":0.9125,"color":"#000"},{"offset":0.9125,"color":"#fff"},{"offset":0.925,"color":"#fff"},{"offset":0.925,"color":"#000"},{"offset":0.9375,"color":"#000"},{"offset":0.9375,"color":"#fff"},{"offset":0.95,"color":"#fff"},{"offset":0.95,"color":"#000"},{"offset":0.9625,"color":"#000"},{"offset":0.9625,"color":"#fff"},{"offset":0.975,"color":"#fff"},{"offset":0.975,"color":"#000"},{"offset":0.9875,"color":"#000"},{"offset":0.9875,"color":"#fff"},{"offset":1,"color":"#fff"}]}},"encoding":{"y":{"datum":40},"y2":{"datum":0}}},
{"transform":[{"filter":"datum.g == 'MTA + 4Gy'"}],"mark":{"type":"bar","fill":"#fff","stroke":"#fff","strokeWidth":1.2},"encoding":{"y2":{"datum":40}}},
{"transform":[{"filter":"datum.g != 'MTA + 4Gy'"}],"mark":{"type":"bar","strokeWidth":0.8},"encoding":{
"fill":{"field":"g","type":"nominal","scale":{"domain":["Vehicle","MTA","Vehicle + 4Gy","MTA + 4Gy"],"range":["#000","#858585","#fff","#fff"]},"legend":{"orient":"none","legendX":-40,"legendY":-33,"title":"F.","titleOrient":"left","titleAnchor":"start","titleBaseline":"top","titlePadding":37.7,"rowPadding":0,"zindex":1,"encode":{"symbols":{"update":{"fill":[{"test":"datum.value === 'MTA + 4Gy'","value":{"gradient":"linear","x1":0,"y1":0,"x2":1,"y2":1,"stops":[{"offset":0,"color":"#fff"},{"offset":0.3,"color":"#fff"},{"offset":0.3,"color":"#000"},{"offset":0.42,"color":"#000"},{"offset":0.42,"color":"#fff"},{"offset":0.58,"color":"#fff"},{"offset":0.58,"color":"#000"},{"offset":0.7,"color":"#000"},{"offset":0.7,"color":"#fff"},{"offset":1,"color":"#fff"}]}},{"test":"datum.value === 'Vehicle'","value":"#000"},{"test":"datum.value === 'MTA'","value":"#858585"},{"value":"#fff"}],"stroke":{"value":"#000"},"strokeWidth":{"value":0.8}}}}}},
"stroke":{"field":"g","type":"nominal","scale":{"domain":["Vehicle","MTA","Vehicle + 4Gy","MTA + 4Gy"],"range":["#000","#222","#555","#000"]},"legend":null}}},
{"transform":[{"filter":"datum.g == 'MTA + 4Gy'"}],"mark":{"type":"bar","fill":"transparent","stroke":"#000","strokeWidth":0.8}},
{"mark":{"type":"rule","color":"#222","strokeWidth":0.8},"encoding":{"y":{"field":"lo","type":"quantitative"},"y2":{"field":"hi"}}},
{"mark":{"type":"tick","color":"#222","thickness":0.8,"size":4,"orient":"horizontal"},"encoding":{"y":{"field":"lo","type":"quantitative"}}},
{"mark":{"type":"tick","color":"#222","thickness":0.8,"size":4,"orient":"horizontal"},"encoding":{"y":{"field":"hi","type":"quantitative"}}},
{"transform":[{"filter":"isValid(datum.s1)"}],"mark":{"type":"text","baseline":"middle","dy":-6,"fontSize":12,"fontWeight":"bold"},"encoding":{"y":{"field":"hi","type":"quantitative"},"text":{"field":"s1"}}},
{"transform":[{"filter":"isValid(datum.s2)"}],"mark":{"type":"text","baseline":"middle","dy":-19,"fontSize":10.5,"fontWeight":"bold","font":"DejaVu Sans"},"encoding":{"y":{"field":"hi","type":"quantitative"},"text":{"field":"s2"}}}
]}
]}
]}
],
"config":{
"font":"Liberation Sans",
"view":{"stroke":null},
"axis":{"labelFont":"Liberation Sans","labelFontSize":11.5,"labelFontWeight":"bold","labelColor":"#000","titleFont":"Liberation Sans","titleFontSize":11,"titleFontWeight":"bold","titleColor":"#000","domainColor":"#000","domainWidth":1.3,"tickColor":"#000","tickSize":3,"tickWidth":1.2,"labelPadding":1,"grid":false},
"legend":{"labelFont":"Liberation Sans","labelFontSize":9.5,"labelFontWeight":"bold","labelColor":"#000","symbolType":"square","symbolSize":42,"symbolStrokeColor":"#000","symbolStrokeWidth":0.8,"rowPadding":0,"labelOffset":5,"padding":0,"titleFont":"Liberation Sans","titleFontSize":11,"titleFontWeight":"bold","titleColor":"#000"},
"title":{"font":"Liberation Sans","fontSize":11,"fontWeight":"bold","anchor":"start","frame":"bounds","color":"#000"},
"text":{"font":"Liberation Sans","color":"#000"}
}
}
